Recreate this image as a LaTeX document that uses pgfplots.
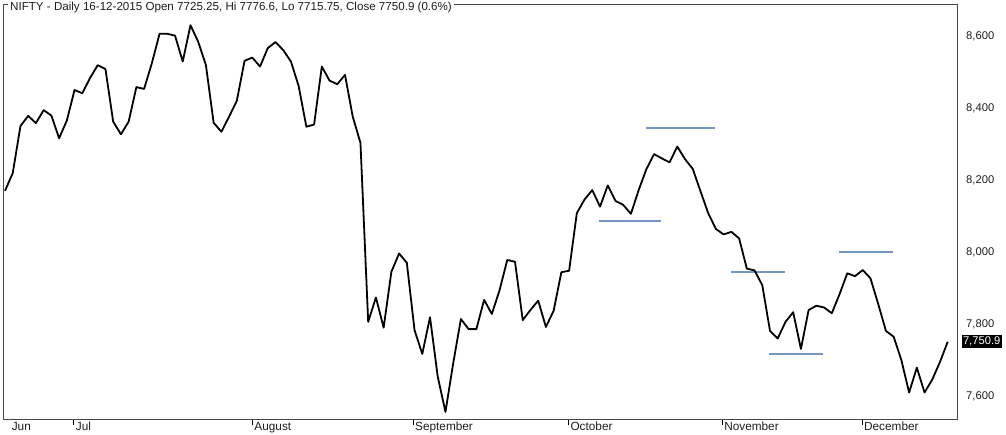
\documentclass[border=0pt]{standalone}
\usepackage{pgfplots}
\pgfplotsset{compat=1.18}
\usepackage{fontspec}
\setmainfont{Liberation Sans}
\definecolor{framegray}{RGB}{70,70,70}
\definecolor{lvblue}{RGB}{116,150,199}
\definecolor{txt}{RGB}{30,30,30}
\begin{document}
\begin{tikzpicture}
\useasboundingbox (-3bp,-15.5bp) rectangle (1003bp,419.5bp);
\begin{axis}[
  name=ax,
  scale only axis,
  width=954bp, height=414.5bp,
  xmin=-0.26, xmax=123.2,
  ymin=7535, ymax=8686,
  clip=false,
  axis line style={draw=framegray, line width=1bp},
  xtick={8.9,32,52.8,72.9,92.8,110.9},
  xticklabels={Jul,August,September,October,November,December},
  extra x ticks={0.6},
  extra x tick labels={Jun},
  extra x tick style={major tick length=0pt, xticklabel style={yshift=-5.5bp}},
  xtick pos=left,
  xtick align=outside,
  major tick length=5.5bp,
  xtick style={draw=black, line width=0.8bp},
  xticklabel style={anchor=north west, inner sep=0pt, xshift=2bp, yshift=3.3bp, font=\fontsize{11.8bp}{13bp}\selectfont, text=txt},
  ytick={7600,7800,8000,8200,8400,8600},
  yticklabel pos=right,
  ytick style={draw=none},
  yticklabel style={anchor=west, inner sep=0pt, xshift=9bp, font=\fontsize{11.2bp}{13bp}\selectfont, text=txt},
  /pgf/number format/.cd, 1000 sep={,}, assume math mode=true,
]
\addplot[lvblue, line width=1.8bp] coordinates {(76.9,8087) (84.9,8087)};
\addplot[lvblue, line width=1.8bp] coordinates {(83.0,8345) (91.9,8345)};
\addplot[lvblue, line width=1.8bp] coordinates {(94.0,7944) (100.9,7944)};
\addplot[lvblue, line width=1.8bp] coordinates {(98.9,7716) (105.9,7716)};
\addplot[lvblue, line width=1.8bp] coordinates {(107.9,8000) (114.9,8000)};
\addplot[black, line width=1.8bp, line join=round, no marks] coordinates {
(0,8170) (1,8219) (2,8350) (3,8378) (4,8358) (5,8394) (6,8379) (7,8316) (8,8365) (9,8450)
(10,8441) (11,8483) (12,8519) (13,8508) (14,8362) (15,8327) (16,8362) (17,8458) (18,8453) (19,8524)
(20,8606) (21,8606) (22,8601) (23,8529) (24,8630) (25,8584) (26,8519) (27,8359) (28,8334) (29,8376)
(30,8420) (31,8531) (32,8540) (33,8515) (34,8566) (35,8583) (36,8561) (37,8529) (38,8461) (39,8348)
(40,8354) (41,8515) (42,8476) (43,8466) (44,8492) (45,8376) (46,8303) (47,7806) (48,7874) (49,7790)
(50,7945) (51,7996) (52,7970) (53,7783) (54,7717) (55,7819) (56,7654) (57,7556) (58,7691) (59,7814)
(60,7786) (61,7786) (62,7867) (63,7828) (64,7894) (65,7978) (66,7973) (67,7811) (68,7839) (69,7865)
(70,7792) (71,7837) (72,7944) (73,7948) (74,8108) (75,8146) (76,8172) (77,8126) (78,8185) (79,8142)
(80,8131) (81,8106) (82,8172) (83,8230) (84,8272) (85,8260) (86,8249) (87,8293) (88,8258) (89,8231)
(90,8169) (91,8108) (92,8064) (93,8049) (94,8056) (95,8038) (96,7954) (97,7949) (98,7908) (99,7781)
(100,7760) (101,7806) (102,7833) (103,7731) (104,7839) (105,7851) (106,7846) (107,7830) (108,7883) (109,7941)
(110,7933) (111,7950) (112,7927) (113,7856) (114,7781) (115,7765) (116,7700) (117,7610) (118,7679) (119,7610)
(120,7646) (121,7695) (122,7750.9)
};
\coordinate (lv) at (axis cs:123.2,7750.9);
\end{axis}
\node[fill=white, inner xsep=2bp, inner ysep=1bp, anchor=base west, text=txt,
  font=\fontsize{11.6bp}{14bp}\selectfont]
  at ([xshift=5bp,yshift=-5.5bp]ax.north west)
  {NIFTY - Daily 16-12-2015 Open 7725.25, Hi 7776.6, Lo 7715.75, Close 7750.9 (0.6\%)};
\node[fill=black, text=white, anchor=west, inner xsep=1.3bp, inner ysep=2.1bp,
  font=\fontsize{11.2bp}{13bp}\selectfont] at ([xshift=4.5bp]lv) {7,750.9};
\end{tikzpicture}
\end{document}
